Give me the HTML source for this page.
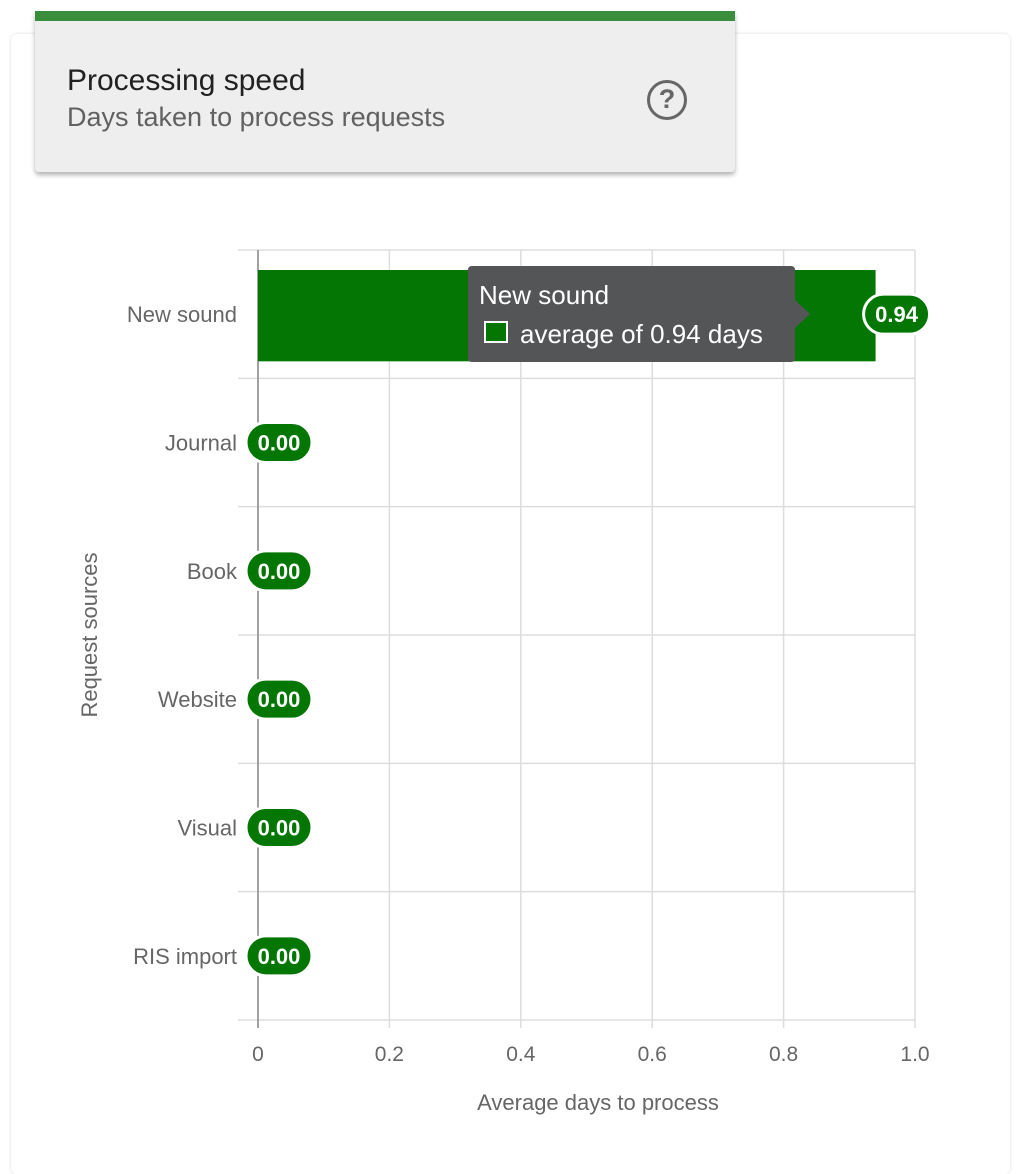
<!DOCTYPE html>
<html><head><meta charset="utf-8"><style>
body{margin:0;width:1022px;height:1131px;background:#fff;overflow:hidden;font-family:"Liberation Sans",sans-serif;position:relative}
.card{position:absolute;left:11px;top:34px;width:999px;height:1140px;background:#fff;border-radius:6px;box-shadow:0 0 3px rgba(0,0,0,.15)}
.hdr{position:absolute;left:35px;top:11px;width:700px;height:161px;background:#eee;border-top:10px solid #388e3c;box-sizing:border-box;border-radius:0 0 4px 4px;box-shadow:0 3px 5px rgba(0,0,0,.3)}
.t1{position:absolute;left:32px;top:43px;font-size:30px;color:#212121}
.t2{position:absolute;left:32px;top:81px;font-size:27px;color:#616161}
.help{position:absolute;left:612px;top:59px;width:40px;height:40px;border:3.5px solid #666;border-radius:50%;box-sizing:border-box;color:#666;font-size:27px;font-weight:bold;text-align:center;line-height:33px}
svg{position:absolute;left:0;top:0}
</style></head><body>
<div class="card"></div>
<div class="hdr">
<div class="t1">Processing speed</div>
<div class="t2">Days taken to process requests</div>
<div class="help">?</div>
</div>
<svg id="c" width="1022" height="1131"></svg>
<script>
const categories=["New sound","Journal","Book","Website","Visual","RIS import"];
const values=[0.94,0,0,0,0,0];
const ticks=[0,0.2,0.4,0.6,0.8,1.0];
const tickLabels=["0","0.2","0.4","0.6","0.8","1.0"];
const svg=document.getElementById('c');const NS="http://www.w3.org/2000/svg";
const X0=258,X1=915,Y0=250,Y1=1020;
const x=v=>X0+(v-0)/(1-0)*(X1-X0);
const band=(Y1-Y0)/categories.length;
const y=i=>Y0+i*band;
function mk(t,a,txt){const e=document.createElementNS(NS,t);for(const k in a)e.setAttribute(k,a[k]);if(txt!==undefined)e.textContent=txt;svg.appendChild(e);return e;}
ticks.forEach((t,i)=>{
 const g=mk('line',{x1:x(t),x2:x(t),y1:Y0,y2:Y1+8,stroke:'#ddd','stroke-width':1.5});
 
 const l=mk('text',{x:x(t),y:1061,'text-anchor':'middle','font-size':21,fill:'#666'},tickLabels[i]);
 
});
for(let i=0;i<=categories.length;i++){
 const g=mk('line',{x1:238,x2:X1,y1:y(i),y2:y(i),stroke:'#ddd','stroke-width':1.5});
 
}
const ax=mk('line',{x1:X0,x2:X0,y1:Y0,y2:Y1+8,stroke:'#888','stroke-width':1.5});

categories.forEach((c,i)=>{
 const cy=y(i)+band/2;
 const l=mk('text',{x:237,y:cy+8,'text-anchor':'end','font-size':22,fill:'#666'},c);
 
 const w=x(values[i])-X0;
 if(w>0){const b=mk('rect',{x:X0,y:y(i)+20,width:w,height:band-37,fill:'#037603'});
 }
 const px=x(values[i])+21;
 const p=mk('rect',{x:px-33,y:cy-20,width:66,height:40,rx:20,fill:'#037603',stroke:'#fff','stroke-width':3});
 
 const t=mk('text',{x:px,y:cy+8,'text-anchor':'middle','font-size':22,'font-weight':'bold',fill:'#fff'},values[i].toFixed(2));
 
});
const tt=mk('path',{d:'M472 266 H791 Q795 266 795 270 V300 L810 314 L795 328 V358 Q795 362 791 362 H472 Q468 362 468 358 V270 Q468 266 472 266Z',fill:'#545557'});

const t1=mk('text',{x:479,y:304,'font-size':26,fill:'#fff'},'New sound');

const sw=mk('rect',{x:485,y:322,width:22,height:20,fill:'#037603',stroke:'#fff','stroke-width':2});

const t2=mk('text',{x:520,y:343,'font-size':26,fill:'#fff','xml:space':'preserve'},'average of  '+values[0].toFixed(2)+' days');

const xt=mk('text',{x:598,y:1110,'text-anchor':'middle','font-size':22,fill:'#666'},'Average days to process');

const yt=mk('text',{x:0,y:0,'text-anchor':'middle','font-size':22,fill:'#666',transform:'translate(97,635) rotate(-90)'},'Request sources');

</script>
</body></html>
